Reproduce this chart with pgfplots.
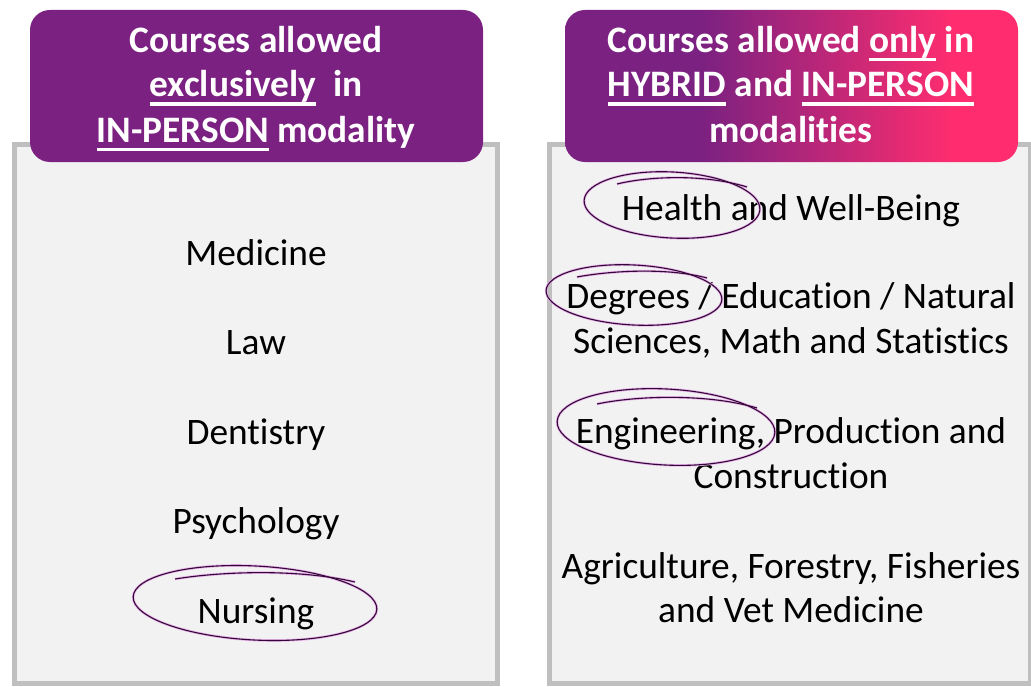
\documentclass[border=0pt]{standalone}
\usepackage{pgfplots}
\pgfplotsset{compat=1.18}
\usepackage{fontspec}
\setmainfont{Carlito}[Ligatures=NoCommon]
\definecolor{purp}{HTML}{7B2181}
\definecolor{pinkc}{HTML}{FF2D6F}
\definecolor{boxfill}{HTML}{F2F2F2}
\definecolor{boxline}{HTML}{BFBFBF}
\definecolor{circ}{HTML}{330836}
\definecolor{halo}{HTML}{E9B3EC}
\pgfdeclarehorizontalshading{hdrshade}{100bp}{color(0bp)=(purp); color(40bp)=(purp); color(68bp)=(pinkc); color(100bp)=(pinkc)}
\newcommand{\ul}[1]{\setbox0=\hbox{#1}\rlap{\rule[-8.5bp]{\wd0}{3bp}}\box0\relax}
\begin{document}
\begin{tikzpicture}[
  hdr/.style={anchor=base,inner sep=0pt,text=white,font=\fontsize{37.5}{44}\selectfont\bfseries},
  bod/.style={anchor=base,inner sep=0pt,text=black,font=\fontsize{37.5}{44}\selectfont},
  circl/.style={draw=circ,line width=1.1bp},
  haloc/.style={draw=halo,line width=2.6bp}]
\begin{axis}[width=1031bp,height=686bp,scale only axis,
  xmin=0,xmax=1031,ymin=0,ymax=686,y dir=reverse,hide axis,clip=true]
\coordinate (SW) at (axis cs:0,686);
\coordinate (NE) at (axis cs:1031,0);
\fill[white] (axis cs:0,0) rectangle (axis cs:1031,686);
% panels
\addplot[draw=boxline,line width=5bp,fill=boxfill] coordinates {(14.5,683.5) (14.5,144.5) (497.5,144.5) (497.5,683.5)} -- cycle;
\addplot[draw=boxline,line width=5bp,fill=boxfill] coordinates {(549.5,683.5) (549.5,144.5) (1030.5,144.5) (1030.5,683.5)} -- cycle;
% headers
\fill[purp,rounded corners=20bp] (axis cs:30,10) rectangle (axis cs:483,162);
\shade[shading=hdrshade,rounded corners=20bp] (axis cs:565,10) rectangle (axis cs:1018,162);
\node[hdr] at (axis cs:256,53) {Courses allowed};
\node[hdr] at (axis cs:256,97) {\ul{exclusively}\ \ in};
\node[hdr] at (axis cs:256,142) {\ul{IN-PERSON} modality};
\node[hdr] at (axis cs:791,53) {Courses allowed \ul{only} in};
\node[hdr] at (axis cs:791,97) {\ul{HYBRID} and \ul{IN-PERSON}};
\node[hdr] at (axis cs:791,142) {modalities};
% left list
\node[bod] at (axis cs:256,265) {Medicine};
\node[bod] at (axis cs:256,354) {Law};
\node[bod] at (axis cs:256,444) {Dentistry};
\node[bod] at (axis cs:256,533) {Psychology};
\node[bod] at (axis cs:256,623) {Nursing};
% right list
\node[bod] at (axis cs:791,220) {Health and Well-Being};
\node[bod] at (axis cs:791,308) {Degrees / Education / Natural};
\node[bod] at (axis cs:791,353) {Sciences, Math and Statistics};
\node[bod] at (axis cs:791,443) {Engineering, Production and};
\node[bod] at (axis cs:791,488) {Construction};
\node[bod] at (axis cs:791,578) {Agriculture, Forestry, Fisheries};
\node[bod] at (axis cs:791,622) {and Vet Medicine};
% hand-drawn circles
\pgfplotsinvokeforeach{haloc,circl}{
  \draw[#1,rotate around={-3:(axis cs:255,603)}] (axis cs:255,603) ellipse [x radius=122,y radius=37];
  \draw[#1] (axis cs:175,579) .. controls (axis cs:225,571) and (axis cs:300,569) .. (axis cs:355,582);
  \draw[#1,rotate around={-3:(axis cs:672,205)}] (axis cs:672,205) ellipse [x radius=88,y radius=33];
  \draw[#1] (axis cs:617,184) .. controls (axis cs:650,176) and (axis cs:705,174) .. (axis cs:747,187);
  \draw[#1,rotate around={-3:(axis cs:634,295)}] (axis cs:634,295) ellipse [x radius=88,y radius=30];
  \draw[#1] (axis cs:577,277) .. controls (axis cs:615,270) and (axis cs:670,268) .. (axis cs:707,278);
  \draw[#1,rotate around={-3:(axis cs:666,427)}] (axis cs:666,427) ellipse [x radius=109,y radius=38];
  \draw[#1] (axis cs:597,404) .. controls (axis cs:640,395) and (axis cs:710,394) .. (axis cs:757,408);
}
\end{axis}
\pgfresetboundingbox
\useasboundingbox (SW) rectangle (NE);
\end{tikzpicture}
\end{document}
